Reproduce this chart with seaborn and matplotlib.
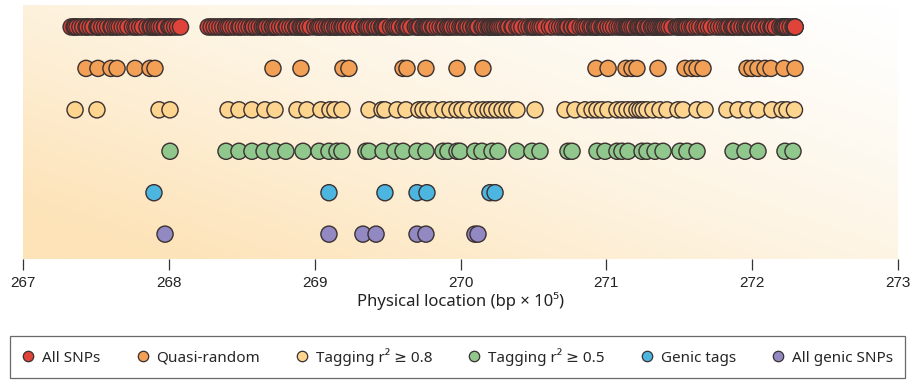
import numpy as np
import pandas as pd
import seaborn as sns
import matplotlib
matplotlib.use("Agg")
from matplotlib import pyplot as plt
from matplotlib.lines import Line2D
from matplotlib.colors import LinearSegmentedColormap

# positions in units of 10^5 bp
quasi_random = [267.432, 267.514, 267.603, 267.645, 267.768, 267.871, 267.905,
                268.714, 268.906, 269.194, 269.235, 269.606, 269.633, 269.763,
                269.976, 270.154, 270.929, 271.012, 271.135, 271.176, 271.210,
                271.354, 271.540, 271.588, 271.622, 271.663, 271.965, 271.999,
                272.040, 272.088, 272.129, 272.218, 272.294]

tagging_08 = [267.357, 267.507, 267.933, 268.008, 268.406, 268.481, 268.570,
              268.659, 268.728, 268.879, 268.947, 269.043, 269.105, 269.139,
              269.187, 269.373, 269.462, 269.482, 269.565, 269.626, 269.715,
              269.743, 269.777, 269.818, 269.880, 269.928, 269.976, 270.010,
              270.051, 270.113, 270.154, 270.189, 270.216, 270.250, 270.285,
              270.319, 270.353, 270.387, 270.511, 270.717, 270.785, 270.854,
              270.902, 270.936, 270.970, 271.011, 271.073, 271.107, 271.142,
              271.176, 271.210, 271.231, 271.252, 271.279, 271.320, 271.368,
              271.416, 271.491, 271.526, 271.622, 271.677, 271.827, 271.903,
              271.971, 272.040, 272.136, 272.205, 272.239, 272.290]

tagging_05 = [268.008, 268.392, 268.481, 268.570, 268.653, 268.728, 268.803,
              268.920, 269.030, 269.098, 269.153, 269.187, 269.352, 269.373,
              269.469, 269.551, 269.606, 269.702, 269.763, 269.880, 269.914,
              269.976, 269.996, 270.099, 270.147, 270.216, 270.257, 270.387,
              270.490, 270.545, 270.737, 270.765, 270.936, 270.991, 271.073,
              271.107, 271.149, 271.245, 271.279, 271.334, 271.389, 271.505,
              271.553, 271.622, 271.869, 271.951, 272.040, 272.225, 272.280]

genic_tags = [267.898, 269.098, 269.482, 269.702, 269.770, 270.202, 270.237]

all_genic = [267.974, 269.098, 269.331, 269.421, 269.702, 269.763, 270.099, 270.120]

# the rest of the SNPs on the top row (the tags are taken out of these)
other_snps = [267.33, 267.35, 267.37, 267.39, 267.41, 267.44, 267.46, 267.48,
              267.52, 267.54, 267.56, 267.58, 267.61, 267.63, 267.66, 267.68,
              267.70, 267.72, 267.75, 267.78, 267.80, 267.82, 267.85, 267.88,
              267.92, 267.95, 267.97, 268.00, 268.02, 268.04, 268.06, 268.08,
              268.27, 268.29, 268.31, 268.33, 268.35, 268.37, 268.39, 268.42,
              268.44, 268.46, 268.49, 268.51, 268.53, 268.55, 268.58, 268.60,
              268.62, 268.64, 268.67, 268.69, 268.71, 268.74, 268.76, 268.78,
              268.81, 268.83, 268.85, 268.87, 268.90, 268.93, 268.95, 268.97,
              269.00, 269.02, 269.06, 269.08, 269.12, 269.14, 269.17, 269.21,
              269.23, 269.26, 269.28, 269.30, 269.33, 269.36, 269.39, 269.41,
              269.44, 269.46, 269.49, 269.52, 269.54, 269.58, 269.61, 269.64,
              269.66, 269.69, 269.72, 269.75, 269.79, 269.81, 269.84, 269.86,
              269.89, 269.91, 269.94, 269.96, 270.02, 270.04, 270.07, 270.09,
              270.12, 270.17, 270.20, 270.23, 270.27, 270.30, 270.33, 270.36,
              270.40, 270.42, 270.45, 270.47, 270.50, 270.53, 270.56, 270.58,
              270.61, 270.63, 270.66, 270.68, 270.70, 270.73, 270.76, 270.79,
              270.82, 270.84, 270.87, 270.89, 270.92, 270.95, 270.98, 271.03,
              271.05, 271.09, 271.12, 271.16, 271.19, 271.22, 271.26, 271.29,
              271.31, 271.34, 271.38, 271.40, 271.43, 271.45, 271.48, 271.51,
              271.55, 271.57, 271.60, 271.64, 271.68, 271.70, 271.72, 271.75,
              271.77, 271.79, 271.81, 271.84, 271.86, 271.88, 271.91, 271.93,
              271.95, 271.98, 272.01, 272.03, 272.06, 272.08, 272.11, 272.14,
              272.16, 272.19, 272.21, 272.24, 272.26, 272.28, 272.295]

all_snps = sorted(set(other_snps + quasi_random + tagging_08 + tagging_05
                      + genic_tags + all_genic))

names = ["All SNPs", "Quasi-random", "Tagging r\u00b2 \u2265 0.8",
         "Tagging r\u00b2 \u2265 0.5", "Genic tags", "All genic SNPs"]
colors = ["#e0433a", "#f2a055", "#fdd58e", "#8fc78c", "#4db6e0", "#9389c2"]
series = [all_snps, quasi_random, tagging_08, tagging_05, genic_tags, all_genic]

rows = []
for i, (name, vals) in enumerate(zip(names, series)):
    for v in sorted(vals):
        rows.append((name, v, i))
df = pd.DataFrame(rows, columns=["series", "pos", "row"])

sns.set_style("white")
plt.rcParams["font.family"] = ["Noto Sans", "DejaVu Sans"]

fig = plt.figure(figsize=(9.12, 3.8), dpi=100)
ax = fig.add_axes([23 / 912, 1 - 259 / 380, 875 / 912, 254 / 380])

# background gradient: orange at bottom left fading to white at top right
u, v = np.meshgrid(np.linspace(0, 1, 300), np.linspace(0, 1, 100))
t = np.clip(0.6 * (1 - u) + 0.5 * v, 0, 1) ** 1.2
bg = LinearSegmentedColormap.from_list("bg", ["#ffffff", "#fdf3e0", "#fde3b8"])
ax.imshow(t, cmap=bg, extent=[267, 273, 5.6, -0.53], aspect="auto",
          zorder=0, interpolation="bilinear")

sns.scatterplot(data=df, x="pos", y="row", hue="series", palette=dict(zip(names, colors)),
                s=135, edgecolor="#3a3030", linewidth=1.0, legend=False, ax=ax, zorder=3)

ax.set_xlim(267, 273)
ax.set_ylim(5.6, -0.53)
ax.set_yticks([])
ax.set_ylabel("")
for sp in ax.spines.values():
    sp.set_visible(False)
ax.set_xticks(range(267, 274))
ax.tick_params(axis="x", direction="out", length=8, width=0.9, color="#333333",
               pad=4, labelsize=11, bottom=True)
for lab in ax.get_xticklabels():
    lab.set_family(["Liberation Sans", "DejaVu Sans"])
    lab.set_color("#222222")
ax.set_xlabel("Physical location (bp \u00d7 10\u2075)", fontsize=12,
              color="#222222", labelpad=2)

handles = [Line2D([], [], ls="", marker="o", markersize=7.5, markerfacecolor=c,
                  markeredgecolor="#3a3030", markeredgewidth=0.9) for c in colors]
leg = fig.legend(handles, names, loc="lower left", ncol=6, mode="expand",
                 bbox_to_anchor=(10 / 912, 2 / 380, 895 / 912, 40 / 380),
                 fontsize=11, frameon=True, fancybox=False, handlelength=0.8,
                 handletextpad=0.5, borderaxespad=0, borderpad=0.8)
leg.get_frame().set_edgecolor("#444444")
leg.get_frame().set_linewidth(0.9)

fig.savefig("out.png", dpi=100)
